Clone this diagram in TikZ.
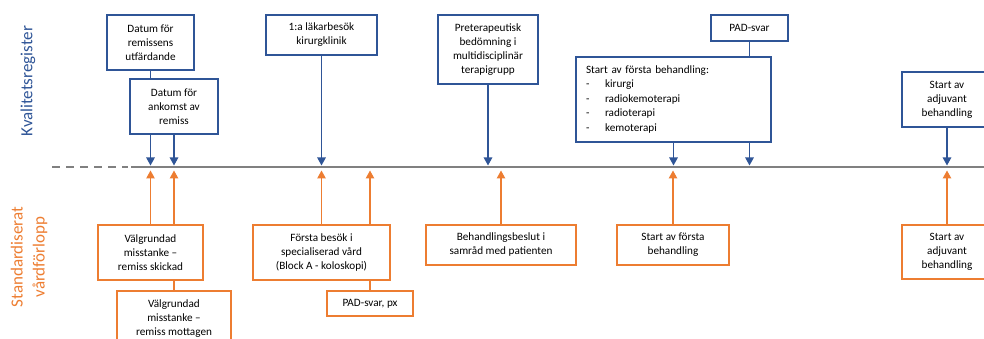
\documentclass[tikz,border=0pt]{standalone}
\usepackage{fontspec}
\setmainfont{Carlito}
\usetikzlibrary{arrows.meta,backgrounds}
\definecolor{kblue}{HTML}{2F5597}
\definecolor{korange}{HTML}{ED7D31}
\definecolor{kgray}{HTML}{808080}
\begin{document}
\begin{tikzpicture}[x=1pt,y=-1pt,
  font=\fontsize{11.2}{14}\selectfont,
  box/.style={fill=white,line width=1.2pt,align=center,inner sep=0pt},
  bluebox/.style={box,draw=kblue},
  orangebox/.style={box,draw=korange},
  barrow/.style={draw=kblue,line width=1.2pt,-{Triangle[length=8pt,width=8.5pt]}},
  oarrow/.style={draw=korange,line width=1.2pt,-{Triangle[length=8pt,width=8.5pt]}},
  sidelabel/.style={font=\fontsize{17}{22}\selectfont,rotate=90,align=center,inner sep=0pt}]
\useasboundingbox (0,0) rectangle (984,339);

% timeline coordinates
\coordinate (tlL) at (52,167);
\coordinate (tlD) at (128,167);
\coordinate (tlS) at (131,167);
\coordinate (tlR) at (990,167);
\coordinate (tltop) at (0,165.5);
\coordinate (tlbot) at (0,170.5);

% side labels
\node[sidelabel,text=kblue] (kval) at (28,81) {Kvalitetsregister};
\node[sidelabel,text=korange] (std) at (29,257) {Standardiserat\\vårdförlopp};

% blue (top) boxes
\node[bluebox,minimum width=87pt,minimum height=55pt] (b1) at (150.5,42.5) {Datum för\\remissens\\utfärdande};
\node[bluebox,minimum width=88pt,minimum height=55pt] (b2) at (174,106.5) {Datum för\\ankomst av\\remiss};
\node[bluebox,minimum width=111pt,minimum height=40pt] (b3) at (321.5,35) {1:a läkarbesök\\kirurgklinik};
\node[bluebox,minimum width=100pt,minimum height=69pt] (b4) at (488,49.5) {Preterapeutisk\\bedömning i\\multidisciplinär\\terapigrupp};
\node[bluebox,minimum width=195pt,minimum height=85pt,text width=175pt,align=left] (b5) at (673.5,99.5)
  {\fontsize{11.2}{14.5}\selectfont\begin{tabular}{@{}p{19pt}@{}l@{}}
   \multicolumn{2}{@{}l@{}}{Start av första behandling:}\\
   - & kirurgi\\
   - & radiokemoterapi\\
   - & radioterapi\\
   - & kemoterapi
   \end{tabular}};
\node[bluebox,minimum width=77pt,minimum height=26pt] (b6) at (749.5,28) {PAD-svar};
\node[bluebox,minimum width=90pt,minimum height=55pt] (b7) at (947,99.5) {Start av\\adjuvant\\behandling};

% orange (bottom) boxes
\node[orangebox,minimum width=105pt,minimum height=55pt] (o1) at (150.5,252.5) {Välgrundad\\misstanke --\\remiss skickad};
\node[orangebox,minimum width=114pt,minimum height=55pt] (o2) at (174,318.5) {Välgrundad\\misstanke --\\remiss mottagen};
\node[orangebox,minimum width=137pt,minimum height=55pt] (o3) at (321.5,252.5) {Första besök i\\specialiserad vård\\(Block A - koloskopi)};
\node[orangebox,minimum width=86pt,minimum height=25pt] (o4) at (370,303.5) {PAD-svar, px};
\node[orangebox,minimum width=150pt,minimum height=40pt] (o5) at (501,245) {Behandlingsbeslut i\\samråd med patienten};
\node[orangebox,minimum width=112pt,minimum height=40pt] (o6) at (673,245) {Start av första\\behandling};
\node[orangebox,minimum width=90pt,minimum height=54pt] (o7) at (947,252) {Start av\\adjuvant\\behandling};

% connectors (behind boxes)
\begin{scope}[on background layer]
  \draw[kgray,line width=2.6pt,dash pattern=on 8pt off 6pt] (tlL) -- (tlD);
  \draw[kgray,line width=2.6pt] (tlS) -- (tlR);
  \draw[barrow] (b1.south) -- (b1.south |- tltop);
  \draw[barrow] (b2.south) -- (b2.south |- tltop);
  \draw[barrow] (b3.south) -- (b3.south |- tltop);
  \draw[barrow] (b4.south) -- (b4.south |- tltop);
  \draw[barrow] (b5.south) -- (b5.south |- tltop);
  \draw[barrow] (b6.south) -- (b6.south |- tltop);
  \draw[barrow] (b7.south) -- (b7.south |- tltop);
  \draw[oarrow] (o1.north) -- (o1.north |- tlbot);
  \draw[oarrow] (o2.north) -- (o2.north |- tlbot);
  \draw[oarrow] (o3.north) -- (o3.north |- tlbot);
  \draw[oarrow] (o4.north) -- (o4.north |- tlbot);
  \draw[oarrow] (o5.north) -- (o5.north |- tlbot);
  \draw[oarrow] (o6.north) -- (o6.north |- tlbot);
  \draw[oarrow] (o7.north) -- (o7.north |- tlbot);
\end{scope}
\end{tikzpicture}
\end{document}
